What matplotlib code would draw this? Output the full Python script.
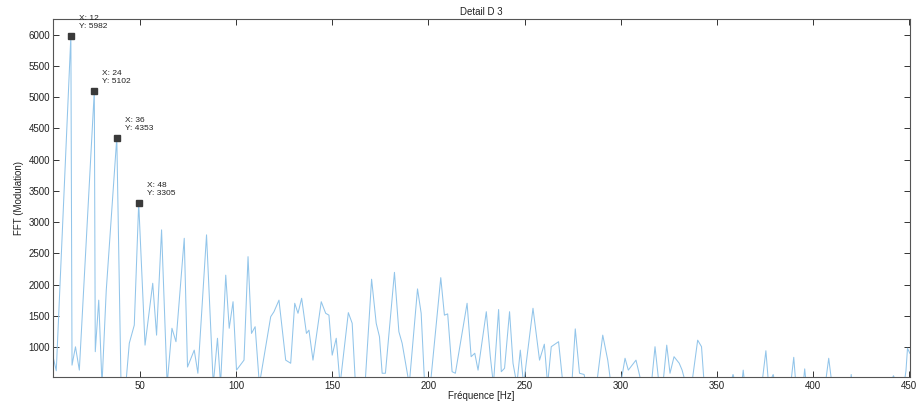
import matplotlib
matplotlib.use("Agg")
import matplotlib.pyplot as plt

plt.rcParams['font.family'] = ['Liberation Sans', 'DejaVu Sans']

# Spectrum vertices (Hz, FFT amplitude); values < 520 are below the view
freq = [4.6, 6.3, 13.9, 14.5, 16.3, 18.3, 26.1, 26.6, 28.4, 30.1, 32.3, 37.8, 40.0, 42.5,
        44.3, 46.9, 49.2, 52.5, 56.5, 58.5, 61.1, 64.0, 66.5, 68.6, 72.9, 74.6, 78.1, 80.0,
        84.5, 88.0, 90.2, 91.8, 94.5, 96.3, 98.3, 100.1, 104.0, 106.1, 107.9, 109.8, 112.0,
        117.9, 119.6, 122.2, 125.7, 128.3, 130.4, 132.1, 134.0, 136.5, 137.8, 139.9, 144.2,
        146.5, 148.2, 149.9, 152.0, 154.0, 158.3, 160.3, 162.0, 167.0, 170.4, 172.8, 174.5,
        175.9, 177.6, 182.3, 184.6, 186.3, 190.0, 194.3, 196.2, 198.0, 201.0, 206.4, 208.3,
        210.0, 212.3, 214.0, 220.1, 222.2, 224.1, 225.8, 230.1, 232.2, 233.8, 236.5, 237.9,
        239.6, 242.2, 244.0, 246.0, 247.8, 249.5, 254.4, 257.8, 260.3, 262.0, 263.9, 267.7,
        270.0, 274.6, 276.4, 278.6, 281.0, 282.0, 287.5, 290.7, 293.3, 295.0, 300.0, 302.3,
        304.0, 308.0, 311.0, 316.0, 317.9, 320.0, 322.0, 324.0, 325.7, 327.8, 330.5, 332.0,
        334.0, 337.0, 340.1, 342.1, 343.5, 357.0, 358.5, 360.0, 363.0, 363.8, 364.6, 373.5,
        375.6, 377.0, 379.4, 380.5, 388.5, 390.1, 391.2, 395.0, 395.8, 396.6, 406.5, 408.3,
        410.0, 419.5, 420.0, 420.5, 440.0, 442.0, 444.0, 447.5, 448.5, 449.3, 450.5]
amplitude = [850, 620, 5982, 710, 1003, 630, 5102, 925, 1750, 400, 1900, 4353, 400, 400,
             1060, 1350, 3305, 1030, 2020, 1190, 2875, 400, 1300, 1085, 2740, 680, 950, 580,
             2795, 400, 1140, 400, 2150, 1300, 1725, 630, 790, 2446, 1218, 1325, 400,
             1485, 1565, 1750, 790, 740, 1700, 1540, 1780, 1218, 1270, 790, 1725,
             1540, 1510, 870, 1140, 400, 1550, 1380, 400, 400, 2085, 1380, 1165,
             580, 580, 2195, 1245, 1060, 400, 1930, 1540, 400, 400, 2110, 1510,
             1530, 605, 580, 1700, 845, 900, 630, 1565, 845, 400, 1600, 605,
             660, 1565, 740, 400, 950, 400, 1620, 790, 1045, 400, 1005, 1085,
             400, 400, 1290, 580, 560, 400, 400, 1190, 790, 400, 400, 820,
             630, 790, 400, 400, 1005, 400, 400, 1030, 580, 845, 740, 630,
             400, 400, 1110, 1005, 400, 400, 560, 400, 400, 630, 400, 400,
             940, 400, 560, 400, 400, 835, 400, 400, 650, 400, 400, 820,
             400, 400, 560, 400, 400, 540, 400, 400, 620, 980, 900]

# Data tips
tip_x = [13.9, 26.1, 37.8, 49.2]
tip_y = [5982, 5102, 4353, 3305]
tip_labels = ["X: 12\nY: 5982", "X: 24\nY: 5102", "X: 36\nY: 4353", "X: 48\nY: 3305"]

x_ticks = [50, 100, 150, 200, 250, 300, 350, 400, 450]
y_ticks = [1000, 1500, 2000, 2500, 3000, 3500, 4000, 4500, 5000, 5500, 6000]

fig = plt.figure(figsize=(9.16, 4.07), dpi=100)
ax = fig.add_axes([53 / 916, 1 - 377 / 407, (910 - 53) / 916, (377 - 19) / 407])

ax.plot(freq, amplitude, color='#92c5ea', lw=0.75)
ax.plot(tip_x, tip_y, ls='none', marker='s', ms=4.5, color='#3a3a3a')
for x, y, lab in zip(tip_x, tip_y, tip_labels):
    ax.annotate(lab, (x, y), xytext=(8, 6), textcoords='offset pixels',
                ha='left', va='bottom', fontsize=6, color='#222222', linespacing=1.15)

ax.set_xlim(4.6, 450.6)
ax.set_ylim(520, 6250)
ax.set_xticks(x_ticks)
ax.set_yticks(y_ticks)
ax.tick_params(axis='both', direction='in', length=4.5, width=0.7, labelsize=7,
               colors='#333333', labelcolor='#222222', top=True, right=True, pad=2)
ax.tick_params(axis='x', pad=3)
for s in ax.spines.values():
    s.set_color('#555555')
    s.set_linewidth(0.8)

ax.set_title("Detail D 3", fontsize=7, pad=3, color='#222222')
ax.set_xlabel("Fréquence [Hz]", fontsize=7, labelpad=0, color='#222222')
ax.set_ylabel("FFT (Modulation)", fontsize=7, labelpad=3, color='#222222')

fig.savefig("out.png", dpi=100)
